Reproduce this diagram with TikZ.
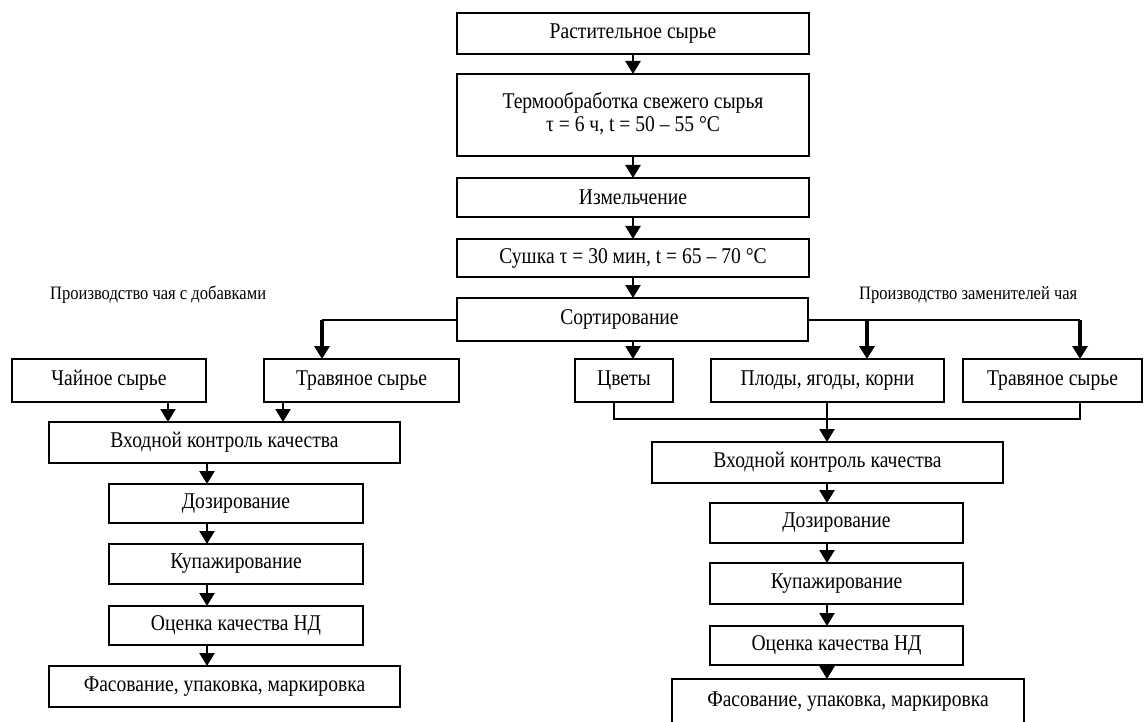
\documentclass[tikz,border=0pt]{standalone}
\usepackage{fontspec}
\setmainfont{Liberation Serif}[FakeStretch=0.87]
\usetikzlibrary{arrows.meta}
\begin{document}
\begin{tikzpicture}[x=1pt,y=-1pt,
  box/.style={draw, line width=1.8pt, inner sep=0pt, outer sep=0pt, font=\fontsize{22.5}{24}\selectfont, align=center},
  hdr/.style={font=\fontsize{19}{22}\selectfont, inner sep=0pt},
  arr/.style={line width=2.4pt, -{Triangle[width=15pt,length=13pt]}},
  ln/.style={line width=1.8pt},
  brr/.style={line width=3.6pt, -{Triangle[width=15pt,length=13pt]}}]
\clip (0,0) rectangle (1146,722);
\fill[white] (0,0) rectangle (1146,722);
% top chain
\node[box, minimum width=352pt, minimum height=41pt] (n1) at (633,33.5) {Растительное сырье};
\node[box, minimum width=352pt, minimum height=82pt] (n2) at (633,115) {\raisebox{3pt}{\begin{tabular}{@{}c@{}}Термообработка свежего сырья\\[-1pt]τ = 6 ч, t = 50 – 55 °C\end{tabular}}};
\node[box, minimum width=352pt, minimum height=39pt] (n3) at (633,197.5) {Измельчение};
\node[box, minimum width=352pt, minimum height=38pt] (n4) at (633,258) {Сушка τ = 30 мин, t = 65 – 70 °C};
\node[box, minimum width=351pt, minimum height=43pt] (n5) at (632.5,319.5) {Сортирование\hspace*{26pt}};
\draw[arr] (n1.south) -- (n2.north);
\draw[arr] (n2.south) -- (n3.north);
\draw[arr] (n3.south) -- (n4.north);
\draw[arr] (n4.south) -- (n5.north -| n4.south);
% headers
\node[hdr, anchor=west] (h1) at (50,295) {Производство чая с добавками};
\node[hdr, anchor=west] (h2) at (859,295) {Производство заменителей чая};
% row
\node[box, minimum width=194pt, minimum height=43pt] (a1) at (109,380.5) {Чайное сырье};
\node[box, minimum width=195pt, minimum height=43pt] (a2) at (361.5,380.5) {Травяное сырье};
\node[box, minimum width=98pt, minimum height=43pt] (b1) at (624,380.5) {Цветы};
\node[box, minimum width=233pt, minimum height=43pt] (b2) at (827.5,380.5) {Плоды, ягоды, корни};
\node[box, minimum width=179pt, minimum height=43pt] (b3) at (1052.5,380.5) {Травяное сырье};
% branches from sorting
\coordinate (lc) at (322,320);
\coordinate (rc) at (1080,320);
\coordinate (mc) at (867,320);
\draw[ln] (n5.west |- lc) -- (lc);
\draw[brr] (lc) -- (lc |- a2.north);
\draw[ln] (n5.east |- rc) -- (rc);
\draw[brr] (mc) -- (mc |- b2.north);
\draw[brr] (rc) -- (rc |- b3.north);
\draw[arr] (n5.south -| 633,0) -- (b1.north -| 633,0);
% left column
\node[box, minimum width=351pt, minimum height=41pt] (L1) at (224.5,442.5) {Входной контроль качества};
\node[box, minimum width=254pt, minimum height=39pt] (L2) at (236,503.5) {Дозирование};
\node[box, minimum width=254pt, minimum height=40pt] (L3) at (236,564) {Купажирование};
\node[box, minimum width=254pt, minimum height=39pt] (L4) at (236,625.5) {Оценка качества НД};
\node[box, minimum width=351pt, minimum height=41pt] (L5) at (224.5,686.5) {Фасование, упаковка, маркировка};
\draw[arr] (a1.south -| 168,0) -- (L1.north -| 168,0);
\draw[arr] (a2.south -| 283,0) -- (L1.north -| 283,0);
\draw[arr] (L1.south -| 207,0) -- (L2.north -| 207,0);
\draw[arr] (L2.south -| 207,0) -- (L3.north -| 207,0);
\draw[arr] (L3.south -| 207,0) -- (L4.north -| 207,0);
\draw[arr] (L4.south -| 207,0) -- (L5.north -| 207,0);
% right column
\node[box, minimum width=351pt, minimum height=41pt] (R1) at (827.5,462.5) {Входной контроль качества};
\node[box, minimum width=253pt, minimum height=40pt] (R2) at (836.5,523) {Дозирование};
\node[box, minimum width=253pt, minimum height=41pt] (R3) at (836.5,583.5) {Купажирование};
\node[box, minimum width=253pt, minimum height=39pt] (R4) at (836.5,645.5) {Оценка качества НД};
\node[box, minimum width=352pt, minimum height=46pt] (R5) at (848,702) {Фасование, упаковка, маркировка};
\draw[ln] (b1.south -| 614,0) -- (614,419) -- (1080,419) -- (b3.south -| 1080,0);
\draw[arr] (b2.south -| 827,0) -- (R1.north -| 827,0);
\draw[arr] (R1.south -| 827,0) -- (R2.north -| 827,0);
\draw[arr] (R2.south -| 827,0) -- (R3.north -| 827,0);
\draw[arr] (R3.south -| 827,0) -- (R4.north -| 827,0);
\draw[arr] (R4.south -| 827,0) -- (R5.north -| 827,0);
\end{tikzpicture}
\end{document}
